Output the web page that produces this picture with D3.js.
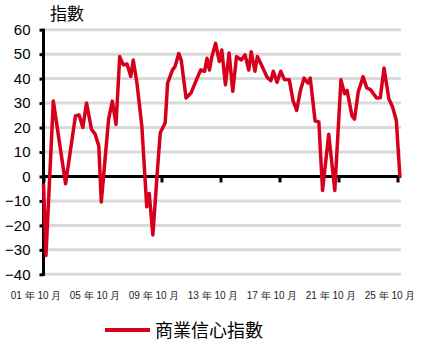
<!DOCTYPE html>
<html>
<head>
<meta charset="utf-8">
<script src="https://cdn.jsdelivr.net/npm/d3@7"></script>
<style>
body { margin: 0; background: #fff; }
svg { display: block; font-family: "Liberation Sans", Arial, "Noto Sans CJK TC", sans-serif; }
</style>
</head>
<body>
<div class="container"></div>
<script>
var width = 424;
var height = 343;

// 商業信心指數
var months = ['2001-10','2001-12','2002-06','2003-04','2003-12','2004-03','2004-06','2004-09',
    '2005-01','2005-04','2005-07','2005-09','2006-03','2006-06','2006-09','2006-12',
    '2007-03','2007-06','2007-09','2007-11','2008-02','2008-06','2008-10','2008-12',
    '2009-03','2009-07','2009-09','2010-01','2010-03','2010-07','2010-09','2010-12',
    '2011-02','2011-06','2011-10','2012-03','2012-06','2012-09','2012-11','2013-01',
    '2013-03','2013-06','2013-09','2013-11','2014-02','2014-05','2014-08','2014-11',
    '2015-03','2015-06','2015-09','2015-11','2016-02','2016-04','2016-07','2016-12',
    '2017-03','2017-05','2017-08','2017-11','2018-02','2018-06','2018-09','2018-12',
    '2019-03','2019-06','2019-09','2019-11','2020-03','2020-06','2020-09','2021-02',
    '2021-07','2021-12','2022-03','2022-05','2022-09','2022-11','2023-02','2023-06',
    '2023-09','2023-12','2024-05','2024-08','2024-11','2025-03','2025-06','2025-09','2025-12'];
var values = [-3, -32.3, 30.8, -3, 24.7, 25.1, 20, 30,
    19.3, 17.3, 12.5, -10.4, 23.4, 30.8, 21.3, 49,
    45.6, 46, 40.9, 47.6, 38.2, 20.6, -12.4, -7,
    -23.9, 4.5, 17.9, 22, 38.2, 43.6, 44.9, 50.3,
    47.6, 32.1, 34.1, 40.2, 43.6, 43, 48.3, 43.5,
    49, 54.4, 47, 51.7, 37.5, 50.5, 34.8, 49,
    47.6, 49.7, 43.5, 51, 43, 49, 46, 40.5,
    39.2, 43, 38.5, 43, 39.6, 39.5, 31, 27,
    35, 40.2, 38.2, 40.2, 22.7, 22.3, -5.7, 17.3,
    -5.7, 39.5, 33.8, 35.2, 24.7, 23.4, 34.5, 40.8,
    36.2, 35.5, 32.1, 32.2, 44.3, 31.8, 28.4, 23, -0.4];
var tickMonths = ['2001-10','2005-10','2009-10','2013-10','2017-10','2021-10','2025-10'];
var tickLabels = ['01 年 10 月','05 年 10 月','09 年 10 月','13 年 10 月','17 年 10 月','21 年 10 月','25 年 10 月'];
var yTicks = [-40, -30, -20, -10, 0, 10, 20, 30, 40, 50, 60];
var seriesName = '商業信心指數';
var unitLabel = '指數';

var parse = d3.timeParse('%Y-%m');
var red = '#d6001c';

var XScale = d3.scaleTime()
    .domain([parse('2001-10'), parse('2025-10')])
    .range([43.5, 397.5]);

var YScale = d3.scaleLinear()
    .domain([-40, 60])
    .range([274.3, 29.7]);

var gridRight = 401;

var line = d3.line()
    .x(function(d) { return XScale(parse(d[0])); })
    .y(function(d) { return YScale(d[1]); });

var svg = d3.select('.container').append('svg')
    .attr('width', width)
    .attr('height', height);

// gridlines
svg.append('g')
    .selectAll('line')
    .data(yTicks.filter(function(d) { return d !== 0; }))
    .enter().append('line')
    .attr('x1', XScale.range()[0])
    .attr('x2', gridRight)
    .attr('y1', function(d) { return YScale(d); })
    .attr('y2', function(d) { return YScale(d); })
    .attr('stroke', '#d9d9d9')
    .attr('stroke-width', 3);

// y axis
var yAxis = d3.axisLeft(YScale).tickValues(yTicks).tickSizeInner(4).tickSizeOuter(0).tickPadding(9);
var yg = svg.append('g')
    .attr('transform', 'translate(' + XScale.range()[0] + ',0)')
    .call(yAxis);
yg.select('.domain').attr('stroke', '#000').attr('stroke-width', 3)
    .attr('d', 'M0,' + (YScale(60) - 1) + 'V' + (YScale(-40) + 1.5));
yg.selectAll('.tick line').attr('stroke', '#000').attr('stroke-width', 3);
yg.selectAll('.tick text').attr('font-size', 15).attr('fill', '#000');

// zero line with category ticks
var xAxis = d3.axisBottom(XScale)
    .tickValues(tickMonths.map(parse))
    .tickFormat(function(d, i) { return tickLabels[i]; })
    .tickSizeInner(6).tickSizeOuter(0);
var xg = svg.append('g')
    .attr('transform', 'translate(0,' + YScale(0) + ')')
    .call(xAxis);
xg.select('.domain').attr('stroke', '#000').attr('stroke-width', 3)
    .attr('d', 'M' + XScale.range()[0] + ',0H' + gridRight);
xg.selectAll('.tick line').attr('stroke', '#000').attr('stroke-width', 3);
xg.selectAll('.tick text').remove();

// bottom labels
var lg = svg.append('g')
    .attr('transform', 'translate(0,' + YScale(-40) + ')')
    .call(xAxis.tickSizeInner(0).tickPadding(18));
lg.select('.domain').remove();
lg.selectAll('.tick text')
    .attr('font-size', 10)
    .attr('fill', '#222')
    .attr('dx', -8);

// series
svg.append('path')
    .datum(d3.zip(months, values))
    .attr('d', line)
    .attr('fill', 'none')
    .attr('stroke', red)
    .attr('stroke-width', 3.5)
    .attr('stroke-linejoin', 'round');

// title
svg.append('text')
    .attr('x', 50)
    .attr('y', 20)
    .attr('font-size', 17)
    .attr('font-family', '"Noto Sans CJK TC", sans-serif')
    .text(unitLabel);

// legend
svg.append('line')
    .attr('x1', 105).attr('x2', 150)
    .attr('y1', 330).attr('y2', 330)
    .attr('stroke', red)
    .attr('stroke-width', 4);
svg.append('text')
    .attr('x', 155)
    .attr('y', 337)
    .attr('font-size', 18)
    .attr('font-family', '"Noto Sans CJK TC", sans-serif')
    .text(seriesName);
</script>
</body>
</html>
